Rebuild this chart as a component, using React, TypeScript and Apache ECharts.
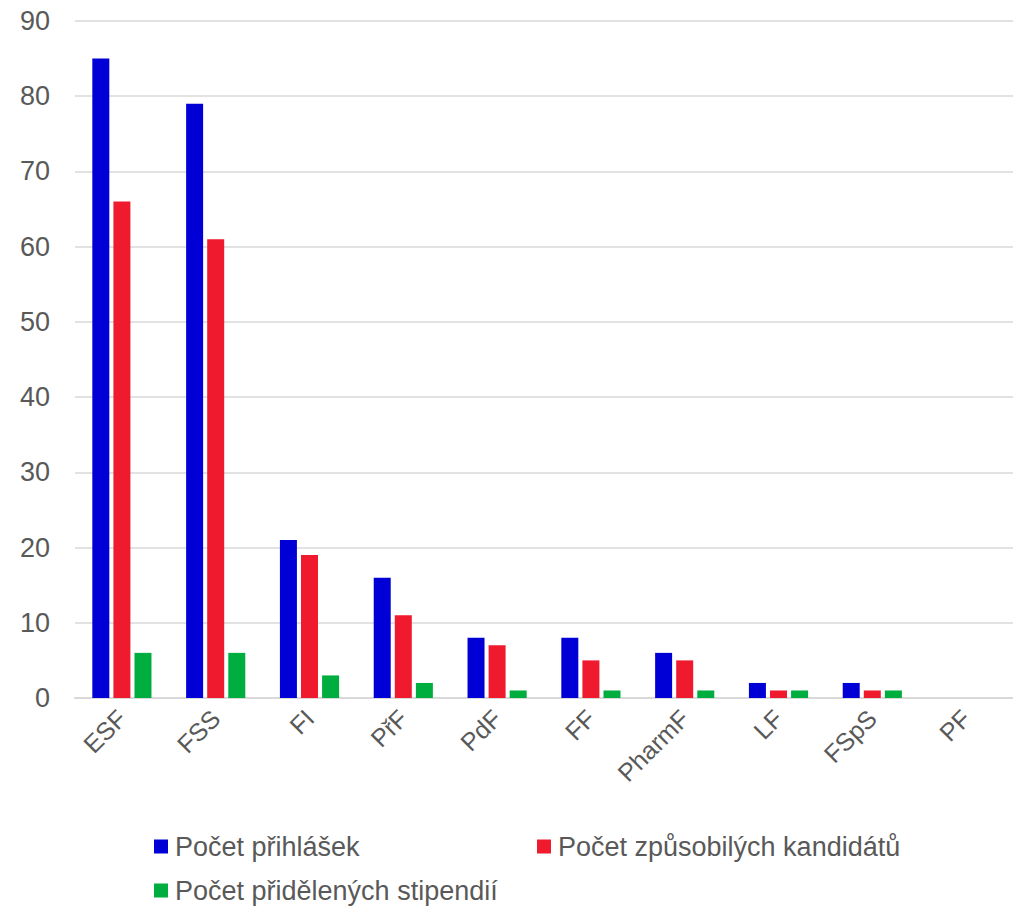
import React, { useEffect, useRef } from "react";
import * as echarts from "echarts";

const categories = ["ESF", "FSS", "FI", "PřF", "PdF", "FF", "PharmF", "LF", "FSpS", "PF"];
const prihlasky = [85, 79, 21, 16, 8, 8, 6, 2, 2, 0];
const zpusobili = [66, 61, 19, 11, 7, 5, 5, 1, 1, 0];
const stipendia = [6, 6, 3, 2, 1, 1, 1, 1, 1, 0];
const seriesNames = ["Počet přihlášek", "Počet způsobilých kandidátů", "Počet přidělených stipendií"];
const colors = ["#0000D6", "#EF1A2D", "#00AD3F"];

export default function App() {
  const ref = useRef<HTMLDivElement>(null);
  useEffect(() => {
    if (!ref.current) return;
    const chart = echarts.init(ref.current, undefined, { renderer: "svg" });
    const font = "'Liberation Sans', Arial, sans-serif";
    const legendBase = {
      icon: "rect",
      itemWidth: 14,
      itemHeight: 14,
      itemGap: 0,
      textStyle: { fontSize: 27, lineHeight: 26, color: "#595959", fontFamily: font, padding: [0, 0, 0, 2] },
      padding: 0,
    };
    const values = [prihlasky, zpusobili, stipendia];
    chart.setOption({
      animation: false,
      color: colors,
      textStyle: { fontFamily: font },
      grid: { left: 75, right: 0, top: 21, bottom: 210, containLabel: false },
      legend: [
        { ...legendBase, data: [seriesNames[0]], left: 154, top: 833 },
        { ...legendBase, data: [seriesNames[1]], left: 537, top: 833 },
        { ...legendBase, data: [seriesNames[2]], left: 154, top: 877 },
      ],
      xAxis: {
        type: "category",
        data: categories,
        axisLine: { lineStyle: { color: "#D9D9D9", width: 2 } },
        axisTick: { show: false },
        axisLabel: {
          rotate: 45,
          fontSize: 25,
          color: "#595959",
          fontFamily: font,
          margin: 16,
          interval: 0,
        },
      },
      yAxis: {
        type: "value",
        min: 0,
        max: 90,
        interval: 10,
        axisLine: { show: false },
        axisTick: { show: false },
        axisLabel: { fontSize: 27, color: "#595959", fontFamily: font, margin: 25 },
        splitLine: { lineStyle: { color: "#D9D9D9", width: 1.5 } },
      },
      series: seriesNames.map((name, i) => ({
        name,
        type: "bar",
        data: values[i],
        barWidth: 17,
        barGap: "24%",
        itemStyle: { color: colors[i] },
      })),
    });
    return () => chart.dispose();
  }, []);
  return (
    <div
      ref={ref}
      style={{ position: "fixed", left: 0, top: 0, width: 1013, height: 908, background: "#fff" }}
    />
  );
}
